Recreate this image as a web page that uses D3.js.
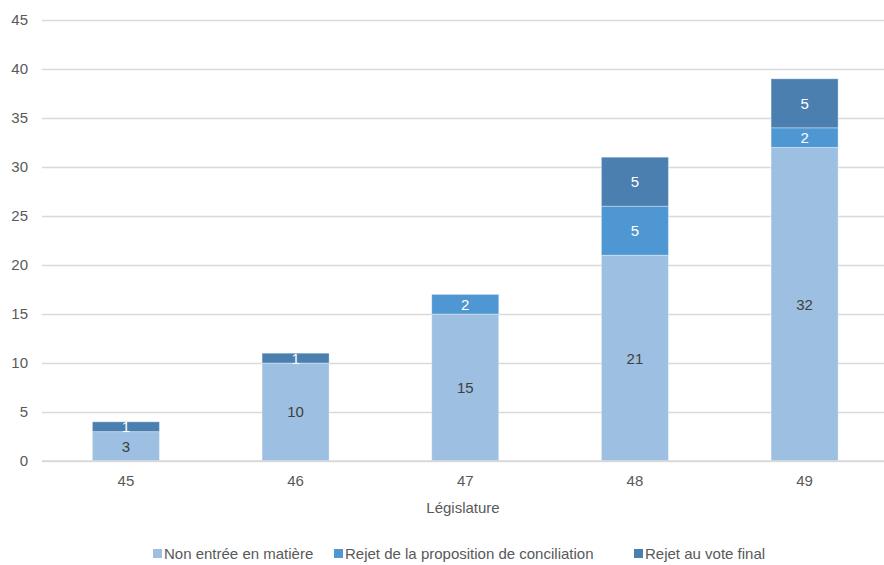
<!DOCTYPE html>
<html><head><meta charset="utf-8">
<script src="https://cdn.jsdelivr.net/npm/d3@7"></script>
<style>body{margin:0;background:#fff}svg{display:block}</style>
</head><body>
<script>
const categories = ["45","46","47","48","49"];
const seriesNames = ["Non entrée en matière","Rejet de la proposition de conciliation","Rejet au vote final"];
const nonEntree = [3,10,15,21,32];
const rejetConciliation = [0,0,2,5,2];
const rejetVoteFinal = [1,1,0,5,5];
const yTicks = [0,5,10,15,20,25,30,35,40,45];
const colors = ["#9dbfe1","#4f97d2","#4a7fb0"];
const labelColors = ["#404040","#ffffff","#ffffff"];

const W=884,H=565;
const svg=d3.select("body").append("svg").attr("width",W).attr("height",H);
const font="Liberation Sans, Arial, sans-serif";

const x=d3.scaleBand().domain(categories).range([41.5,889]).paddingInner(0.605).paddingOuter(0.3);
const y=d3.scaleLinear().domain([0,45]).range([461,20]);

// grid
const yAxis=d3.axisLeft(y).tickValues(yTicks).tickSize(-(884-42)).tickPadding(14);
const gy=svg.append("g").attr("transform","translate(42,0)").call(yAxis);
gy.select(".domain").remove();
gy.selectAll(".tick line").attr("stroke","#d9d9d9").attr("stroke-width",1.3);
gy.selectAll(".tick text").attr("font-family",font).attr("font-size",15).attr("fill","#595959");

const data=categories.map((c,i)=>({cat:c,vals:[nonEntree[i],rejetConciliation[i],rejetVoteFinal[i]]}));
const stack=d3.stack().keys([0,1,2]).value((d,k)=>d.vals[k]);
const series=stack(data);

series.forEach((s,k)=>{
  const g=svg.append("g");
  g.selectAll("rect").data(s.filter(d=>d[1]>d[0])).join("rect")
    .attr("x",d=>x(d.data.cat)).attr("width",x.bandwidth())
    .attr("y",d=>y(d[1])).attr("height",d=>y(d[0])-y(d[1]))
    .attr("fill",colors[k]).attr("stroke","#ffffff").attr("stroke-opacity",0.35).attr("stroke-width",1);
  g.selectAll("text").data(s.filter(d=>d[1]>d[0])).join("text")
    .attr("x",d=>x(d.data.cat)+x.bandwidth()/2)
    .attr("y",d=>(y(d[0])+y(d[1]))/2)
    .attr("dy","0.36em").attr("text-anchor","middle")
    .attr("font-family",font).attr("font-size",15).attr("fill",labelColors[k])
    .text(d=>d[1]-d[0]);
});

// baseline
svg.append("line").attr("x1",42).attr("x2",884).attr("y1",y(0)).attr("y2",y(0)).attr("stroke","#d9d9d9").attr("stroke-width",1.3);

// x axis
const xAxis=d3.axisBottom(x).tickSize(0).tickPadding(14);
const gx=svg.append("g").attr("transform",`translate(0,${y(0)})`).call(xAxis);
gx.select(".domain").remove();
gx.selectAll(".tick text").attr("font-family",font).attr("font-size",15).attr("fill","#595959");

svg.append("text").attr("x",463).attr("y",513).attr("text-anchor","middle")
  .attr("font-family",font).attr("font-size",15).attr("fill","#595959").text("Législature");

// legend
const legendX=[153,334,634];
const lg=svg.append("g");
seriesNames.forEach((n,k)=>{
  lg.append("rect").attr("x",legendX[k]).attr("y",549).attr("width",9).attr("height",9).attr("fill",colors[k]);
  lg.append("text").attr("x",legendX[k]+11).attr("y",558.5).attr("font-family",font).attr("font-size",15)
    .attr("fill","#595959").text(n);
});
</script>
</body></html>
